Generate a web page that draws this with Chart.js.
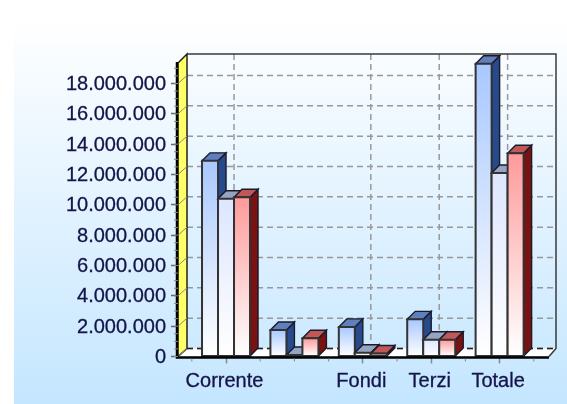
<!DOCTYPE html>
<html lang="it">
<head>
<meta charset="UTF-8">
<title>Corrente Fondi Terzi Totale</title>
<script src="https://cdn.jsdelivr.net/npm/chart.js"></script>
<style>
  html, body { margin: 0; padding: 0; background: #fff; }
  canvas { display: block; }
</style>
</head>
<body>
<canvas id="chart" width="567" height="404"></canvas>
<script>
const categories = ['Corrente', '', 'Fondi', 'Terzi', 'Totale'];
const serieBlu = [12900000, 1750000, 1950000, 2450000, 19300000];
const serieBianca = [10400000, 100000, 250000, 1100000, 12100000];
const serieRossa = [10500000, 1200000, 200000, 1100000, 13400000];
const yTicks = [0, 2000000, 4000000, 6000000, 8000000, 10000000, 12000000, 14000000, 16000000, 18000000];
const yMax = 19350000;

const DX = 9, DY = 8;   // depth of the fake 3d
const BAR_DX = 8;

// front, side, top colours per series
const looks = [
  { front: '#a8c8ff', side: '#264a8c', top: '#5f80bc' },
  { front: '#dde6ff', side: '#7080a0', top: '#96a4c4' },
  { front: '#ff9a9a', side: '#7a1212', top: '#c05858' }
];

function poly(ctx, pts, fill, stroke, lw) {
  ctx.beginPath();
  pts.forEach((p, i) => i ? ctx.lineTo(p[0], p[1]) : ctx.moveTo(p[0], p[1]));
  ctx.closePath();
  if (fill) { ctx.fillStyle = fill; ctx.fill(); }
  if (stroke) { ctx.strokeStyle = stroke; ctx.lineWidth = lw || 1; ctx.stroke(); }
}

const box3d = {
  id: 'box3d',
  beforeDraw(chart) {
    const ctx = chart.ctx;
    const g = ctx.createLinearGradient(0, 17, 0, 404);
    g.addColorStop(0, '#ffffff');
    g.addColorStop(1, '#c4e6ff');
    ctx.fillStyle = g;
    ctx.fillRect(14, 17, 553, 387);
  },
  beforeDatasetsDraw(chart) {
    const ctx = chart.ctx, a = chart.chartArea, x = chart.scales.x, y = chart.scales.y;
    ctx.save();
    // floor
    poly(ctx, [[a.left, a.bottom], [a.left + DX, a.bottom - DY], [a.right + DX - 2, a.bottom - DY], [a.right, a.bottom]], '#ffffff');
    // grid on the back wall
    ctx.setLineDash([6, 4]);
    ctx.strokeStyle = '#999999';
    ctx.lineWidth = 1.5;
    y.ticks.forEach(t => {
      const py = y.getPixelForValue(t.value) - DY;
      ctx.beginPath();
      ctx.moveTo(a.left + DX, py);
      ctx.lineTo(a.right + DX - 2, py);
      ctx.stroke();
    });
    categories.forEach((c, i) => {
      if (!c) return;
      const px = x.getPixelForValue(i) + BAR_DX;
      ctx.beginPath();
      ctx.moveTo(px, a.top - DY - 1);
      ctx.lineTo(px, a.bottom - DY);
      ctx.stroke();
    });
    // dark dashes at the back of the floor
    ctx.strokeStyle = '#222222';
    ctx.beginPath();
    ctx.moveTo(a.left + DX, a.bottom - DY);
    ctx.lineTo(a.right + DX - 2, a.bottom - DY);
    ctx.stroke();
    ctx.setLineDash([]);
    // top and right edge of the back wall
    ctx.strokeStyle = '#3a3a3a';
    ctx.lineWidth = 1.5;
    ctx.beginPath();
    ctx.moveTo(a.left + DX, a.top - DY - 1);
    ctx.lineTo(a.right + DX - 2, a.top - DY - 1);
    ctx.lineTo(a.right + DX - 2, a.bottom - DY);
    ctx.lineTo(a.right, a.bottom);
    ctx.stroke();
    // yellow wall
    poly(ctx, [[a.left, a.top], [a.left + DX, a.top - DY - 1], [a.left + DX, a.bottom - DY], [a.left, a.bottom]], '#ffff66', '#222222', 1.5);
    // slanted tick marks on the wall
    ctx.strokeStyle = '#888888';
    ctx.lineWidth = 1;
    y.ticks.forEach(t => {
      const py = y.getPixelForValue(t.value);
      ctx.beginPath();
      ctx.moveTo(a.left, py);
      ctx.lineTo(a.left + DX, py - DY);
      ctx.stroke();
    });
    ctx.restore();
  },
  afterDatasetsDraw(chart) {
    const ctx = chart.ctx, a = chart.chartArea, y = chart.scales.y, x = chart.scales.x;
    ctx.save();
    chart.data.datasets.forEach((ds, d) => {
      const look = looks[d];
      chart.getDatasetMeta(d).data.forEach(bar => {
        const l = bar.x - bar.width / 2, r = bar.x + bar.width / 2, t = bar.y, b = bar.base;
        poly(ctx, [[r, t], [r + BAR_DX, t - DY], [r + BAR_DX, b - DY], [r, b]], look.side, '#1a1a2a', 1.4);
        poly(ctx, [[l, t], [l + BAR_DX, t - DY], [r + BAR_DX, t - DY], [r, t]], look.top, '#1a1a2a', 1.4);
        const g = ctx.createLinearGradient(0, t, 0, b);
        g.addColorStop(0, look.front);
        g.addColorStop(1, '#ffffff');
        poly(ctx, [[l, t], [r, t], [r, b], [l, b]], g, '#333333', 2);
      });
    });
    // front edge of the floor and the axis line
    ctx.strokeStyle = '#000000';
    ctx.lineWidth = 2.5;
    ctx.beginPath();
    ctx.moveTo(a.left - 1, a.top - 1);
    ctx.lineTo(a.left - 1, a.bottom + 1);
    ctx.lineTo(a.right, a.bottom + 1);
    ctx.stroke();
    // minor ticks
    ctx.strokeStyle = '#888888';
    ctx.lineWidth = 1;
    for (let v = 0; v < yMax; v += 500000) {
      const py = y.getPixelForValue(v);
      ctx.beginPath();
      ctx.moveTo(a.left - 4, py);
      ctx.lineTo(a.left, py);
      ctx.stroke();
    }
    for (let v = -0.5; v < categories.length; v += 0.5) {
      if (Number.isInteger(v) && categories[v]) continue;
      const px = x.getPixelForValue(v);
      ctx.beginPath();
      ctx.moveTo(px, a.bottom + 2);
      ctx.lineTo(px, a.bottom + 5);
      ctx.stroke();
    }
    ctx.restore();
  }
};

const ctx = document.getElementById('chart').getContext('2d');
new Chart(ctx, {
  type: 'bar',
  data: {
    datasets: [serieBlu, serieBianca, serieRossa].map(s => ({
      data: categories.map((c, i) => ({ x: i, y: s[i] })),
      backgroundColor: 'transparent',
      barThickness: 16
    }))
  },
  options: {
    responsive: false,
    animation: false,
    layout: { padding: { top: 63, right: 18, left: 0, bottom: 0 } },
    plugins: { legend: { display: false }, tooltip: { enabled: false } },
    scales: {
      x: {
        type: 'linear',
        offset: false,
        min: -0.702,
        max: 4.722,
        afterBuildTicks: s => { s.ticks = categories.map((c, i) => ({ value: i })); },
        afterFit: s => { s.height = 47.5; },
        border: { display: false },
        grid: {
          offset: false,
          drawOnChartArea: false,
          tickLength: 7,
          tickWidth: 1.5,
          tickColor: c => categories[c.index] ? '#888888' : 'transparent'
        },
        ticks: {
          autoSkip: false,
          maxRotation: 0,
          padding: 6,
          labelOffset: -1.5,
          color: '#14144a',
          textStrokeColor: '#14144a',
          textStrokeWidth: 0.3,
          font: { family: '"Liberation Sans"', size: 20 },
          callback: v => categories[v]
        }
      },
      y: {
        min: 0,
        max: yMax,
        afterBuildTicks: s => { s.ticks = yTicks.map(v => ({ value: v })); },
        afterFit: s => { s.width = 178; },
        border: { display: false },
        grid: { drawOnChartArea: false, tickLength: 7, tickWidth: 1.5, tickColor: '#666666' },
        ticks: {
          padding: 5,
          labelOffset: 1,
          color: '#14144a',
          textStrokeColor: '#14144a',
          textStrokeWidth: 0.3,
          font: { family: '"Liberation Sans"', size: 20 },
          callback: v => String(v).replace(/\B(?=(\d{3})+$)/g, '.')
        }
      }
    }
  },
  plugins: [box3d]
});
</script>
</body>
</html>
